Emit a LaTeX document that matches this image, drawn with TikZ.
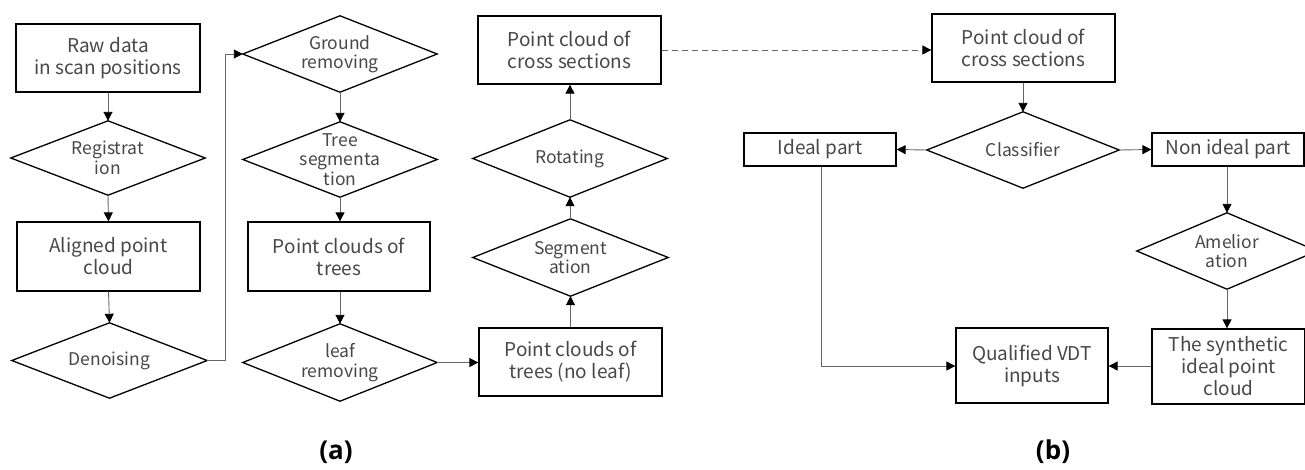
\documentclass[tikz,border=0pt]{standalone}
\usepackage{fontspec}
\newfontfamily\lblfont{Noto Sans CJK SC}
\newfontfamily\capfont{Open Sans}
\usetikzlibrary{arrows.meta}
\definecolor{txtgray}{HTML}{474747}
\definecolor{linegray}{HTML}{666666}
\begin{document}
\begin{tikzpicture}[x=1pt,y=-1pt,
  boxnode/.style={draw=black, line width=1.3pt, rectangle, align=center, inner sep=0pt,
    text=txtgray, font=\lblfont\fontsize{19}{22}\selectfont},
  dianode/.style={rectangle, align=center, inner sep=0pt, text=txtgray,
    font=\lblfont\fontsize{17.5}{19.5}\selectfont},
  diaedge/.style={draw=black, line width=1.3pt, line join=miter},
  conn/.style={draw=linegray, line width=0.9pt, -{Triangle[length=9pt,width=9pt,color=black]}},
  caplabel/.style={font=\capfont\bfseries\fontsize{26}{30}\selectfont, text=black}
]
\useasboundingbox (0,0) rectangle (1305,469);

% ---- (a) column 1
\node[boxnode, minimum width=184pt, minimum height=68pt] (raw) at (108,58) {Raw data\\in scan positions};
\node[dianode, minimum width=194pt, minimum height=74pt] (reg) at (108,158) {Registrat\\ion};
\node[boxnode, minimum width=183pt, minimum height=69pt] (aligned) at (108.5,256.5) {Aligned point\\cloud};
\node[dianode, minimum width=195pt, minimum height=75pt] (denoise) at (109.5,360.5) {Denoising};

% ---- column 2
\node[dianode, minimum width=194pt, minimum height=76pt] (ground) at (340,54) {Ground\\removing};
\node[dianode, minimum width=194pt, minimum height=75pt] (treeseg) at (340,159.5) {Tree\\segmenta\\tion};
\node[boxnode, minimum width=182pt, minimum height=69pt] (pctrees) at (339,256.5) {Point clouds of\\trees};
\node[dianode, minimum width=194pt, minimum height=77pt] (leaf) at (340,362.5) {leaf\\removing};

% ---- column 3
\node[boxnode, minimum width=183pt, minimum height=68pt] (noleaf) at (570.5,362) {Point clouds of\\trees (no leaf)};
\node[dianode, minimum width=195pt, minimum height=77pt] (segm) at (570.5,257.5) {Segment\\ation};
\node[dianode, minimum width=194pt, minimum height=77pt] (rot) at (570,158.5) {Rotating};
\node[boxnode, minimum width=183pt, minimum height=68pt] (cs) at (569.5,50) {Point cloud of\\cross sections};

% ---- (b)
\node[boxnode, minimum width=183pt, minimum height=68pt] (csb) at (1023.5,48) {Point cloud of\\cross sections};
\node[dianode, minimum width=192pt, minimum height=76pt] (classifier) at (1023,150) {Classifier};
\node[boxnode, minimum width=152pt, minimum height=33pt] (ideal) at (820,149.5) {Ideal part};
\node[boxnode, minimum width=152pt, minimum height=33pt] (nonideal) at (1228,149.5) {Non ideal part};
\node[dianode, minimum width=180pt, minimum height=76pt] (amelio) at (1227,251) {Amelior\\ation};
\node[boxnode, minimum width=152pt, minimum height=75pt] (qual) at (1032,365.5) {Qualified VDT\\inputs};
\node[boxnode, minimum width=153pt, minimum height=75pt] (synth) at (1228.5,366.5) {The synthetic\\ideal point\\cloud};

% diamonds outlines
\foreach \n in {reg,denoise,ground,treeseg,leaf,segm,rot,classifier,amelio}
  \draw[diaedge] (\n.north) -- (\n.east) -- (\n.south) -- (\n.west) -- cycle;

% labels
\node[caplabel] (capa) at (336,452) {(a)};
\node[caplabel] (capb) at (1053,452) {(b)};

% connectors (a)
\draw[conn] (raw.south) -- (reg.north);
\draw[conn] (reg.south) -- (aligned.north);
\draw[conn] (aligned.south) -- (denoise.north);
\coordinate (d1) at (225,360.5);
\coordinate (d2) at (225,54);
\draw[conn] (denoise.east) -- (d1) -- (d2) -- (ground.west);
\draw[conn] (ground.south) -- (treeseg.north);
\draw[conn] (treeseg.south) -- (pctrees.north -| treeseg.south);
\draw[conn] (pctrees.south -| leaf.north) -- (leaf.north);
\draw[conn] (leaf.east) -- (noleaf.west |- leaf.east);
\draw[conn] (noleaf.north -| segm.south) -- (segm.south);
\draw[conn] (segm.north) -- (rot.north |- segm.north) -- (rot.south);
\draw[conn] (rot.north) -- (cs.south -| rot.north);
\draw[conn, dashed, dash pattern=on 6pt off 4pt] (cs.east) -- (csb.west |- cs.east);

% connectors (b)
\draw[conn] (csb.south -| classifier.north) -- (classifier.north);
\draw[conn] (classifier.west) -- (ideal.east);
\draw[conn] (classifier.east) -- (nonideal.west);
\draw[conn] (nonideal.south -| amelio.north) -- (amelio.north);
\draw[conn] (amelio.south) -- (synth.north -| amelio.south);
\coordinate (i1) at (821,366);
\draw[conn] (ideal.south -| i1) -- (i1) -- (qual.west |- i1);
\draw[conn] (synth.west |- i1) -- (qual.east |- i1);
\end{tikzpicture}
\end{document}
